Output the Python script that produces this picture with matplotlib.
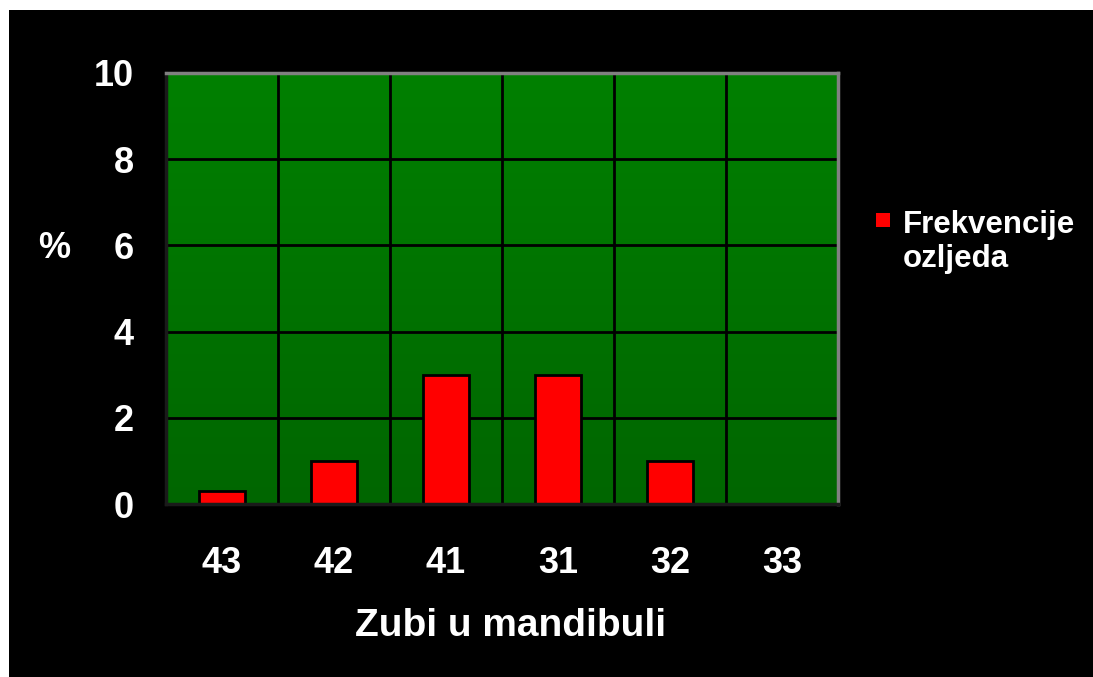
import matplotlib.pyplot as plt
import matplotlib.patches as mpatches
import numpy as np

teeth = ["43", "42", "41", "31", "32", "33"]
freq = [0.3, 1, 3, 3, 1, 0]
yticks = [0, 2, 4, 6, 8, 10]

plt.rcParams['font.family'] = ['Liberation Sans', 'DejaVu Sans']
plt.rcParams['font.weight'] = 'bold'

fig = plt.figure(figsize=(10.93, 6.77), dpi=100)
fig.patch.set_facecolor("white")
# black slide background, white strip on top and left
fig.patches.append(mpatches.Rectangle((9 / 1093, 0), 1, 1 - 10 / 677,
                                      transform=fig.transFigure,
                                      facecolor="black", edgecolor="none",
                                      zorder=-10))

ax = fig.add_axes([166 / 1093, 1 - 504 / 677, 672 / 1093, 431 / 677])
ax.set_zorder(5)
ax.set_facecolor("#007000")
x = np.arange(len(teeth))
ax.set_xlim(-0.5, len(teeth) - 0.5)
ax.set_ylim(0, 10)

# green gradient
grad = np.linspace(0, 1, 256).reshape(-1, 1)
ax.imshow(grad, extent=(-0.5, len(teeth) - 0.5, 0, 10), aspect="auto",
          cmap=plt.matplotlib.colors.LinearSegmentedColormap.from_list(
              "g", ["#006600", "#008000"]),
          origin="lower", zorder=0)

for yy in yticks[1:-1]:
    ax.axhline(yy, color="black", lw=2, zorder=1)
for xx in np.arange(0.5, len(teeth) - 0.5, 1):
    ax.axvline(xx, color="black", lw=2, zorder=1)

ax.bar(x, freq, width=0.41, color="#ff0000", edgecolor="black",
       linewidth=2, zorder=2)

for s in ["top", "right"]:
    ax.spines[s].set_color("#808080")
    ax.spines[s].set_linewidth(2.5)
for s in ["left", "bottom"]:
    ax.spines[s].set_color("#1a1a1a")
    ax.spines[s].set_linewidth(2.5)

ax.set_yticks(yticks)
ax.set_yticklabels([str(v) for v in yticks])
ax.set_xticks(x)
ax.set_xticklabels(teeth)
ax.tick_params(axis="both", length=0, colors="white", labelsize=26)
ax.tick_params(axis="y", pad=23)
ax.tick_params(axis="x", pad=30)
for lab in ax.get_xticklabels() + ax.get_yticklabels():
    lab.set_fontweight("bold")

fig.text(511 / 1093, 1 - 626 / 677, "Zubi u mandibuli", color="white",
         fontsize=28, fontweight="bold", ha="center", va="center")
fig.text(54 / 1093, 1 - 249 / 677, "%", color="white", fontsize=26,
         fontweight="bold", ha="center", va="center")

# legend
fig.patches.append(mpatches.Rectangle((876 / 1093, 1 - 227 / 677),
                                      14 / 1093, 14 / 677,
                                      transform=fig.transFigure,
                                      facecolor="#ff0000", edgecolor="none"))
fig.text(903 / 1093, 1 - 242 / 677, "Frekvencije\nozljeda", color="white",
         fontsize=22.5, fontweight="bold", ha="left", va="center",
         linespacing=1.15)

fig.savefig("out.png", dpi=100, facecolor=fig.get_facecolor())
